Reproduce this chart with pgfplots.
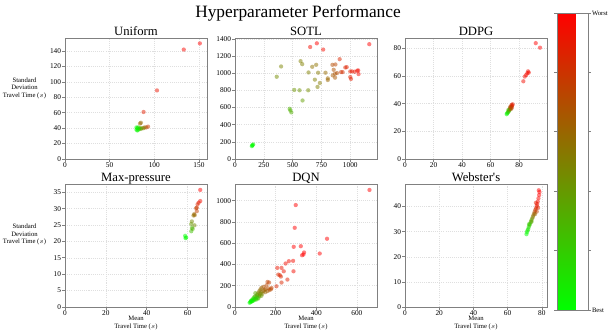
\documentclass[border=0pt]{standalone}
\usepackage{fontspec}
\setmainfont{Liberation Serif}
\usepackage{pgfplots}
\pgfplotsset{compat=1.18}

% shared look of the six panels
\pgfplotsset{
  hp/.style={
    scale only axis, width=106.5pt, height=91.5pt,
    xmin=0, ymin=0,
    axis line style={draw=gray, line width=0.7pt},
    tick style={draw=gray, line width=0.5pt},
    tick align=outside, tick pos=left,
    major tick length=2pt,
    grid=major, grid style={gray!25, dash pattern=on 0.8pt off 0.8pt},
    ticklabel style={font=\fontsize{5.5}{6}\selectfont, inner sep=0.8pt},
    /pgf/number format/assume math mode=true,
    /pgf/number format/1000 sep={},
    every axis title shift=0pt,
    title style={font=\fontsize{9.5}{10}\selectfont, anchor=base, yshift=2pt},
    colormap={gr}{rgb255=(0,255,0) rgb255=(255,0,0)},
    point meta min=0, point meta max=1,
  },
  sc/.style={scatter, only marks, mark=*, mark size=1.6pt,
    scatter src=explicit,
    scatter/use mapped color={draw=mapped color, fill=mapped color},
    mark options={draw opacity=0, fill opacity=0.5, line width=0pt}},
  ylab/.style={ylabel={Standard\\Deviation\\Travel Time ($s$)},
    ylabel style={rotate=-90, align=center, font=\fontsize{5}{5.6}\selectfont,
      at={(rel axis cs:-0.285,0.587)}, anchor=center}},
  xlab/.style={xlabel={Mean\\Travel Time ($s$)},
    xlabel style={align=center, font=\fontsize{5}{5.6}\selectfont,
      at={(rel axis cs:0.5,-0.13)}, anchor=center}},
}

\begin{document}
\begin{tikzpicture}
\path[use as bounding box] (0,0) rectangle (457.5pt,249.75pt);

\node[font=\fontsize{13}{14}\selectfont] at (223.5pt,240pt) {Hyperparameter Performance};

% ---------- Uniform
\begin{axis}[hp, ylab, at={(48.75pt,130.5pt)}, height=90.75pt, title={Uniform},
  xmax=159, ymax=157, xtick={0,50,100,150}, ytick={0,20,...,140}]
\addplot[sc] table[meta=c] {
x y c
151 150 1.0
133 142 0.97
103 89 0.92
88 61 0.88
84 46 0.62
85 47 0.58
93 42 0.78
91 41 0.72
89 41 0.62
88 40 0.52
86 40 0.45
85 39 0.40
84 40 0.35
83 39 0.25
82 38 0.12
81 40 0.05
80 41 0.0
81 37 0.0
80 38 0.04
82 41 0.1
};
\end{axis}

% ---------- SOTL
\begin{axis}[hp, at={(176.25pt,130.5pt)}, height=90.75pt, title={SOTL},
  xmax=1232, ymax=1412, xtick={0,250,...,1000}, ytick={0,200,...,1400}]
\addplot[sc] table[meta=c] {
x y c
146 150 0.0
152 162 0.02
158 170 0.05
150 158 0.0
474 586 0.30
480 567 0.30
489 544 0.32
586 683 0.38
514 806 0.42
560 802 0.42
635 802 0.45
362 960 0.45
400 1080 0.48
569 1142 0.50
583 1107 0.50
638 1010 0.50
670 1076 0.55
704 1099 0.55
721 1007 0.52
693 926 0.50
716 841 0.50
736 887 0.52
785 1007 0.58
805 941 0.60
805 922 0.60
845 1099 0.70
871 1103 0.72
856 1041 0.68
848 976 0.65
868 949 0.66
868 995 0.67
885 1003 0.70
908 1165 0.85
920 1014 0.80
934 1014 0.82
957 1068 0.85
969 1072 0.87
1000 1022 0.88
1000 957 0.86
1006 934 0.88
1015 1022 0.90
1037 1018 0.90
1060 1030 0.95
1069 1034 0.95
1072 991 0.95
1165 1340 1.0
710 1350 1.0
652 1307 0.95
765 1277 0.95
};
\end{axis}

% ---------- DDPG
\begin{axis}[hp, at={(303.75pt,130.5pt)}, height=90.75pt, title={DDPG},
  xmax=99.6, ymax=87.5, xtick={0,20,...,80}, ytick={0,20,...,80}]
\addplot[sc] table[meta=c] {
x y c
91.7 83.8 1.0
94.7 80.5 1.0
83.0 56.2 0.95
84.0 59.6 0.95
85.0 60.8 0.95
85.8 62.0 0.95
86.3 63.4 0.95
86.8 62.5 0.95
71.3 32.4 0.0
71.6 33.0 0.05
72.0 33.6 0.1
72.4 34.0 0.15
72.8 34.6 0.2
73.0 35.2 0.3
73.4 35.8 0.4
73.8 36.4 0.5
74.0 37.0 0.6
74.4 37.6 0.7
74.8 38.2 0.8
75.2 38.8 0.85
75.5 39.6 0.9
74.6 39.0 0.85
73.6 37.5 0.7
72.5 35.5 0.3
75.0 37.0 0.8
74.2 36.0 0.65
};
\end{axis}

% ---------- Max-pressure
\begin{axis}[hp, ylab, xlab, at={(48.75pt,19.5pt)}, height=92.25pt, title={Max-pressure},
  xmax=69.5, ymax=37.5, xtick={0,20,40,60}, ytick={0,5,...,35}]
\addplot[sc] table[meta=c] {
x y c
66.2 35.7 1.0
66.2 32.3 0.95
65.4 31.8 0.9
64.9 31.3 0.85
64.5 30.3 0.8
64.2 30.1 0.75
64.5 29.2 0.75
63.2 28.3 0.6
62.9 27.9 0.55
63.5 28.0 0.6
62.1 26.1 0.45
61.8 25.3 0.4
63.4 24.9 0.45
62.1 24.1 0.3
61.8 23.1 0.25
62.5 23.8 0.3
58.8 21.7 0.0
59.3 21.2 0.0
59.0 21.0 0.02
};
\end{axis}

% ---------- DQN
\begin{axis}[hp, xlab, at={(176.25pt,19.5pt)}, height=92.25pt, title={DQN},
  xmax=699, ymax=1157, xtick={0,200,...,600}, ytick={0,200,...,1000}]
\addplot[sc] table[meta=c] {
x y c
662 1101 1.0
299 959 1.0
294 745 1.0
289 566 1.0
324 572 1.0
453 642 1.0
340 513 1.0
337 494 1.0
330 487 1.0
417 503 1.0
265 431 0.95
286 434 0.95
249 409 0.95
229 368 0.92
208 368 0.92
240 336 0.92
288 336 0.95
213 305 0.85
221 299 0.85
226 286 0.85
229 230 0.85
258 258 0.88
204 195 0.85
160 236 0.75
168 230 0.75
155 204 0.72
180 179 0.75
177 167 0.72
165 175 0.7
150 170 0.68
140 190 0.68
130 180 0.62
145 160 0.65
170 160 0.7
160 150 0.65
120 150 0.55
130 140 0.55
125 165 0.58
115 135 0.5
140 150 0.58
110 120 0.45
135 125 0.52
150 140 0.6
120 110 0.42
100 100 0.32
110 110 0.35
105 90 0.3
95 95 0.28
120 100 0.38
115 80 0.3
130 105 0.4
100 130 0.35
125 125 0.45
90 80 0.12
85 70 0.1
80 60 0.08
95 65 0.1
100 75 0.15
75 45 0.0
78 55 0.02
88 58 0.05
92 72 0.12
105 70 0.15
110 85 0.2
72 40 0.0
80 50 0.02
85 55 0.04
};
\end{axis}

% ---------- Webster's
\begin{axis}[hp, xlab, at={(303.75pt,19.5pt)}, height=92.25pt, title={Webster\textquotesingle s},
  xmax=83, ymax=49, xtick={0,20,...,80}, ytick={0,10,...,40},
  colorbar,
  colorbar shift/.style={xshift=7.5pt, yshift=-2.25pt},
  colorbar style={
    at={(parent axis.south east)}, anchor=south west,
    scale only axis, width=23.25pt, height=222.75pt,
    ytick={0,0.2,0.4,0.6,0.8,1}, yticklabels={Best,,,,,Worst},
    yticklabel pos=right,
    axis line style={draw=gray, line width=0.7pt},
    tick style={draw=gray, line width=0.5pt},
    tick align=outside, major tick length=2pt,
    yticklabel style={font=\fontsize{5}{6}\selectfont},
  }]
\addplot[sc] table[meta=c] {
x y c
71.0 29.0 0.0
71.3 29.8 0.02
71.6 30.5 0.05
72.0 31.0 0.1
72.3 31.8 0.12
72.7 32.5 0.18
73.0 33.0 0.25
73.5 33.8 0.3
73.8 34.5 0.35
74.3 35.2 0.42
74.7 35.8 0.5
75.0 36.5 0.55
75.4 37.2 0.62
75.8 38.0 0.7
76.2 38.7 0.78
76.6 39.4 0.85
77.0 40.2 0.9
77.3 41.0 0.92
77.6 42.0 0.95
78.0 43.3 0.97
78.4 44.6 1.0
78.6 45.8 1.0
78.2 46.5 1.0
77.0 38.0 0.75
76.0 37.0 0.6
74.0 34.0 0.35
72.5 33.0 0.2
76.5 41.5 0.9
77.8 39.5 0.85
};
\end{axis}
\end{tikzpicture}
\end{document}
